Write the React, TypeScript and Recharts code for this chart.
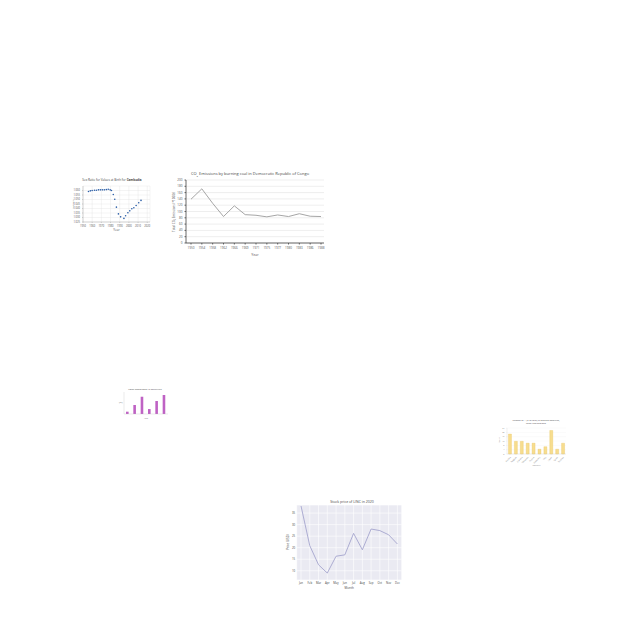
import { LineChart, Line, XAxis, YAxis, CartesianGrid, ScatterChart, Scatter, BarChart, Bar } from "recharts";

// CO2 chart
const co2Years = ["1950", "1954", "1958", "1962", "1966", "1969", "1971", "1975", "1977", "1980", "1983", "1986", "1988"];
const co2Values = [139, 172, 126, 84, 118, 90, 88, 83, 89, 84, 93, 85, 84];
const co2Ticks = [0, 20, 40, 60, 80, 100, 120, 140, 160, 180, 200];

// Cambodia scatter
const sexYears = [1956, 1958, 1960, 1962.5, 1964.6, 1966.8, 1968.9, 1971, 1973.2, 1975.4, 1977.5, 1979.6, 1981, 1983, 1984.6, 1986.4, 1988.6, 1991, 1994.6, 1996.4, 1998.9, 2001, 2003.2, 2005.4, 2007.9, 2010.7, 2013.2];
const sexRatio = [1.0589, 1.0596, 1.06, 1.0603, 1.0603, 1.0607, 1.0607, 1.0607, 1.0607, 1.061, 1.0614, 1.0607, 1.06, 1.0555, 1.0502, 1.0415, 1.034, 1.0307, 1.029, 1.032, 1.0352, 1.0374, 1.0397, 1.0408, 1.0434, 1.0464, 1.049];
const sexXTicks = [1950, 1960, 1970, 1980, 1990, 2000, 2010, 2020];
const sexYTicks = [1.025, 1.03, 1.035, 1.04, 1.045, 1.05, 1.055, 1.06];

// purple bars
const purpleCats = ["A", "B", "C", "D", "E", "F"];
const purpleValues = [2.1, 8.2, 15.7, 4.5, 11.8, 17.3];

// yellow bars
const yellowCats = ["Austria", "Belgium", "Canada", "Denmark", "France", "Germany", "Italy", "Japan", "Spain", "Sweden"];
const yellowValues = [18.4, 11.7, 11.7, 10, 10, 4.4, 6.7, 21.7, 4.4, 10];
const yellowTicks = [0, 4, 8, 12, 16, 20, 24];

// stock
const months = ["Jan", "Feb", "Mar", "Apr", "May", "Jun", "Jul", "Aug", "Sep", "Oct", "Nov", "Dec"];
const stockPrice = [38.1, 20.9, 12.6, 9.0, 16.3, 16.9, 26.2, 19.1, 28.1, 27.4, 25.6, 21.6];
const stockTicks = [10, 15, 20, 25, 30, 35];

const co2Data = co2Years.map((y, i) => ({ year: y, value: co2Values[i] }));
const sexData = sexYears.map((y, i) => ({ year: y, ratio: sexRatio[i] }));
const purpleData = purpleCats.map((c, i) => ({ cat: c, value: purpleValues[i] }));
const yellowData = yellowCats.map((c, i) => ({ country: c, value: yellowValues[i] }));
const stockData = months.map((m, i) => ({ month: m, price: stockPrice[i] }));

const font = "'Open Sans', 'Liberation Sans', sans-serif";
const tiny = { fontSize: 2.6, fill: "#555" };

function Title({ x, y, w, children, size = 3.5 }: { x: number; y: number; w: number; children: any; size?: number }) {
  return (
    <div style={{ position: "absolute", left: x, top: y, width: w, textAlign: "center", fontSize: size, lineHeight: 1.2, color: "#444", whiteSpace: "nowrap" }}>
      {children}
    </div>
  );
}

// rotated axis title, centred on (x, y)
function VLabel({ x, y, text, size = 3, color = "#555" }: { x: number; y: number; text: string; size?: number; color?: string }) {
  return (
    <div style={{ position: "absolute", left: x, top: y, fontSize: size, color, whiteSpace: "nowrap", lineHeight: 1, transform: "translate(-50%, -50%) rotate(-90deg)" }}>
      {text}
    </div>
  );
}

export default function App() {
  return (
    <div style={{ position: "fixed", left: 0, top: 0, width: 640, height: 640, background: "#fff", fontFamily: font, overflow: "hidden" }}>
      {/* scatter */}
      <Title x={72} y={179} w={80} size={3}>
        Sex Ratio for Values at Birth for <b>Cambodia</b>
      </Title>
      <div style={{ position: "absolute", left: 72, top: 184 }}>
        <ScatterChart width={82} height={48} margin={{ top: 2, right: 4, left: 2, bottom: 0 }}>
          <CartesianGrid stroke="#e4e4e4" strokeWidth={0.4} />
          <XAxis type="number" dataKey="year" domain={[1950, 2023]} ticks={sexXTicks} interval={0} tick={tiny} tickSize={1} height={10} stroke="#999" strokeWidth={0.4}
            label={{ value: "Year", position: "insideBottom", offset: 1, fontSize: 3, fill: "#555" }} />
          <YAxis type="number" dataKey="ratio" domain={[1.025, 1.065]} ticks={sexYTicks} interval={0} tick={tiny} tickSize={1} width={9} stroke="#999" strokeWidth={0.4}
            tickFormatter={(v: number) => v.toFixed(3)} />
          <Scatter data={sexData} isAnimationActive={false}
            shape={(p: any) => <circle cx={p.cx} cy={p.cy} r={0.8} fill="#2c5fa8" />} />
        </ScatterChart>
      </div>
      <VLabel x={74} y={204} text="Sex Ratio" size={2.2} />

      {/* CO2 */}
      <Title x={170} y={172} w={160} size={4}>
        CO<sub style={{ fontSize: 2.5 }}>2</sub> Emissions by burning coal in Democratic Republic of Congo
      </Title>
      <div style={{ position: "absolute", left: 170, top: 168 }}>
        <LineChart width={160} height={90} data={co2Data} margin={{ top: 12, right: 6, left: 0, bottom: 5 }}>
          <CartesianGrid vertical={false} stroke="#dcdcdc" strokeWidth={0.5} />
          <XAxis dataKey="year" padding={{ left: 5, right: 3 }} tick={{ fontSize: 3, fill: "#555" }} tickSize={1.5} height={10} stroke="#444" strokeWidth={0.8}
            interval={0} label={{ value: "Year", position: "insideBottom", offset: -3, fontSize: 3.5, fill: "#555" }} />
          <YAxis domain={[0, 200]} ticks={co2Ticks} interval={0} tick={{ fontSize: 3, fill: "#555" }} tickSize={1.5} width={16} stroke="#444" strokeWidth={0.8} />
          <Line type="linear" dataKey="value" stroke="#a6a6a6" strokeWidth={1} dot={false} isAnimationActive={false} />
        </LineChart>
      </div>
      <VLabel x={174} y={212} text="Total CO₂ Emissions (*1000t)" size={3} />

      {/* purple bars */}
      <Title x={115} y={389} w={60} size={2.2}>
        Labor employment in agriculture
      </Title>
      <div style={{ position: "absolute", left: 115, top: 390 }}>
        <BarChart width={55} height={30} data={purpleData} margin={{ top: 2, right: 2, left: 0, bottom: 0 }}>
          <XAxis dataKey="cat" tick={false} tickSize={0} height={6} stroke="#bbb" strokeWidth={0.3}
            label={{ value: "Year", position: "insideBottom", offset: 1, fontSize: 2, fill: "#777" }} />
          <YAxis domain={[0, 20]} tick={false} tickSize={0} width={9} stroke="#bbb" strokeWidth={0.3} />
          <Bar dataKey="value" fill="#bf62c4" barSize={2.6} isAnimationActive={false} />
        </BarChart>
      </div>
      <div style={{ position: "absolute", left: 119, top: 401, fontSize: 2.5, color: "#555", lineHeight: 1 }}>(%)</div>

      {/* yellow bars */}
      <Title x={500} y={420} w={72} size={2.2}>
        Number of ... (% of total) in selected countries,
        <br />
        latest year available
      </Title>
      <div style={{ position: "absolute", left: 498, top: 426 }}>
        <BarChart width={72} height={40} data={yellowData} margin={{ top: 2, right: 4, left: 0, bottom: 0 }} barCategoryGap="25%">
          <CartesianGrid vertical={false} stroke="#eee" strokeWidth={0.3} />
          <XAxis dataKey="country" interval={0} angle={-45} textAnchor="end" tick={{ fontSize: 2, fill: "#888" }} tickSize={0.5} height={12} stroke="#ccc" strokeWidth={0.3}
            label={{ value: "Country", position: "insideBottom", offset: 0, fontSize: 2.2, fill: "#888" }} />
          <YAxis domain={[0, 24]} ticks={yellowTicks} interval={0} tick={{ fontSize: 2, fill: "#888" }} tickSize={0.5} width={9} stroke="#ccc" strokeWidth={0.3} />
          <Bar dataKey="value" fill="#f7dd8f" stroke="#e8bd4f" strokeWidth={0.3} isAnimationActive={false} />
        </BarChart>
      </div>
      <VLabel x={500} y={440} text="Value" size={2} color="#888" />

      {/* stock */}
      <Title x={282} y={500} w={140} size={3.5}>
        Stock price of LINC in 2020
      </Title>
      <div style={{ position: "absolute", left: 282, top: 505 }}>
        <LineChart width={124} height={84} data={stockData} margin={{ top: 0, right: 4.3, left: 0, bottom: 0 }}>
          <CartesianGrid stroke="#fff" strokeWidth={0.6} fill="#eaeaf2" />
          <XAxis dataKey="month" padding={{ left: 4.3, right: 4.3 }} tick={{ fontSize: 2.8, fill: "#444" }} tickSize={0} tickMargin={2} axisLine={false} height={9}
            interval={0} label={{ value: "Month", position: "insideBottom", offset: 0, fontSize: 3, fill: "#444" }} />
          <YAxis domain={[6, 38.5]} ticks={stockTicks} interval={0} tick={{ fontSize: 2.8, fill: "#444" }} tickSize={0} tickMargin={1.5} axisLine={false} width={14.7} />
          <Line type="linear" dataKey="price" stroke="#9c9cc9" strokeWidth={0.8} dot={false} isAnimationActive={false} />
        </LineChart>
      </div>
      <VLabel x={287.5} y={542} text="Price (USD)" size={3} color="#444" />
    </div>
  );
}
